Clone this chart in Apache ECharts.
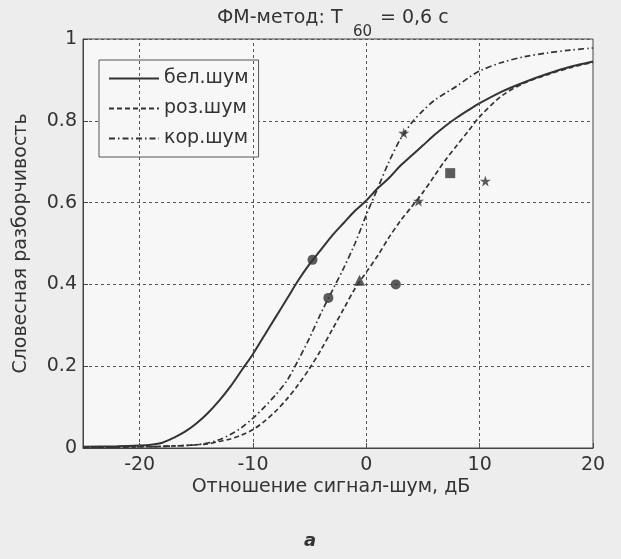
<!DOCTYPE html>
<html><head><meta charset="utf-8">
<script src="https://cdn.jsdelivr.net/npm/echarts@6/dist/echarts.min.js"></script>
<style>html,body{margin:0;padding:0;background:#ededed;}#c{width:621px;height:559px;}</style>
</head><body><div id="c"></div>
<script>
// ---- data ----
const snr = [-25,-22,-20,-19,-18,-17,-16,-15,-14,-13,-12,-11,-10,-9,-8,-7,-6,-5,-4,-3,-2,-1,0,1,2,3,4,5,6,7,8,9,10,12,14,16,18,20];
const whiteNoise = [0.003,0.004,0.006,0.008,0.013,0.025,0.04,0.06,0.085,0.115,0.15,0.19,0.23,0.275,0.32,0.365,0.41,0.45,0.485,0.52,0.55,0.58,0.605,0.635,0.66,0.69,0.715,0.74,0.765,0.788,0.808,0.826,0.843,0.872,0.895,0.915,0.932,0.945];
const pinkNoise = [0.002,0.002,0.003,0.003,0.004,0.005,0.006,0.008,0.01,0.016,0.022,0.032,0.045,0.065,0.09,0.12,0.155,0.195,0.24,0.29,0.34,0.39,0.43,0.47,0.515,0.555,0.59,0.625,0.665,0.705,0.74,0.775,0.81,0.862,0.893,0.913,0.93,0.943];
const corrNoise = [0.002,0.002,0.003,0.003,0.004,0.005,0.006,0.008,0.012,0.02,0.033,0.05,0.073,0.1,0.13,0.165,0.215,0.27,0.33,0.385,0.44,0.5,0.57,0.635,0.7,0.755,0.795,0.825,0.85,0.868,0.885,0.905,0.922,0.943,0.957,0.966,0.973,0.978];
const circlePts = [[-4.75,0.46],[-3.35,0.367],[2.6,0.40]];
const trianglePts = [[-0.6,0.41]];
const starPts = [[3.3,0.77],[4.6,0.604],[10.5,0.653]];
const squarePts = [[7.4,0.672]];
const xTicks = [-20,-10,0,10,20];
const seriesNames = ['бел.шум','роз.шум','кор.шум'];

const zip = (xs, ys) => xs.map((x,i)=>[x, ys[i]]);
const ink = '#333';
const FONT = '"DejaVu Sans", "Liberation Sans", sans-serif';
const gridLine = {type:[3,3], color:'#555', width:1};
const starPath = 'path://M50,0 L61,35 L98,35 L68,57 L79,91 L50,70 L21,91 L32,57 L2,35 L39,35 Z';

const chart = echarts.init(document.getElementById('c'));
chart.setOption({
  backgroundColor:'#ededed',
  animation:false,
  textStyle:{fontFamily:FONT, color:ink},
  grid:{left:83,right:28,top:39,bottom:111,show:true,backgroundColor:'#f7f7f7',borderColor:'#444',borderWidth:1},
  legend:{
    data:seriesNames, orient:'vertical', left:99, top:60,
    backgroundColor:'#f7f7f7', borderColor:'#555', borderWidth:1,
    padding:[9,10,9,9], itemWidth:50, itemHeight:18, itemGap:11,
    itemStyle:{color:'transparent',borderWidth:0,opacity:0},
    textStyle:{fontSize:19,color:ink,fontFamily:FONT}
  },
  xAxis:{
    type:'value', min:-25, max:20,
    axisLine:{show:true,onZero:false,lineStyle:{color:'#444'}},
    axisTick:{show:true,inside:true,length:5,customValues:xTicks,lineStyle:{color:'#444'}},
    axisLabel:{customValues:xTicks,fontSize:19,color:ink,margin:8,fontFamily:FONT},
    splitLine:{show:false}
  },
  yAxis:{
    type:'value', min:0, max:1, interval:0.2,
    name:'Словесная разборчивость', nameLocation:'middle', nameGap:52,
    nameTextStyle:{fontSize:19,color:ink,fontFamily:FONT},
    axisLine:{show:true,onZero:false,lineStyle:{color:'#444'}},
    axisTick:{show:true,inside:true,length:5,lineStyle:{color:'#444'}},
    axisLabel:{fontSize:19,color:ink,margin:6,fontFamily:FONT,formatter:v=> (v===0||v===1)? String(v) : v.toFixed(1)},
    splitLine:{show:true,lineStyle:gridLine}
  },
  graphic:[
    {type:'text',x:217,y:18,style:{text:'ФМ-метод: T',fontSize:19,fill:ink,verticalAlign:'middle',fontFamily:FONT}},
    {type:'text',x:353,y:32,style:{text:'60',fontSize:15,fill:ink,verticalAlign:'middle',fontFamily:FONT}},
    {type:'text',x:380,y:18,style:{text:'= 0,6 с',fontSize:19,fill:ink,verticalAlign:'middle',fontFamily:FONT}},
    {type:'text',x:331,y:487,style:{text:'Отношение сигнал-шум, дБ',fontSize:19,fill:ink,align:'center',verticalAlign:'middle',fontFamily:FONT}},
    {type:'text',x:310,y:541,style:{text:'а',fontSize:18,fontStyle:'italic',fontWeight:'bold',fill:ink,align:'center',verticalAlign:'middle',fontFamily:FONT}}
  ],
  series:[
    {name:seriesNames[0],type:'line',data:zip(snr,whiteNoise),smooth:0.3,symbol:'none',lineStyle:{color:ink,width:2,type:'solid'},itemStyle:{color:ink},
     markLine:{silent:true,symbol:'none',label:{show:false},lineStyle:gridLine,data:[{xAxis:-20},{xAxis:-10},{xAxis:0},{xAxis:10}]}},
    {name:seriesNames[1],type:'line',data:zip(snr,pinkNoise),smooth:0.3,symbol:'none',lineStyle:{color:ink,width:1.7,type:[5,3]},itemStyle:{color:ink}},
    {name:seriesNames[2],type:'line',data:zip(snr,corrNoise),smooth:0.3,symbol:'none',lineStyle:{color:ink,width:1.7,type:[6,3,1.5,3]},itemStyle:{color:ink}},
    {name:'circles',type:'scatter',data:circlePts,symbol:'circle',symbolSize:10,itemStyle:{color:ink}},
    {name:'triangle',type:'scatter',data:trianglePts,symbol:'triangle',symbolSize:11,itemStyle:{color:ink}},
    {name:'stars',type:'scatter',data:starPts,symbol:starPath,symbolSize:11,itemStyle:{color:ink}},
    {name:'square',type:'scatter',data:squarePts,symbol:'rect',symbolSize:10,itemStyle:{color:ink}}
  ]
});
</script></body></html>
